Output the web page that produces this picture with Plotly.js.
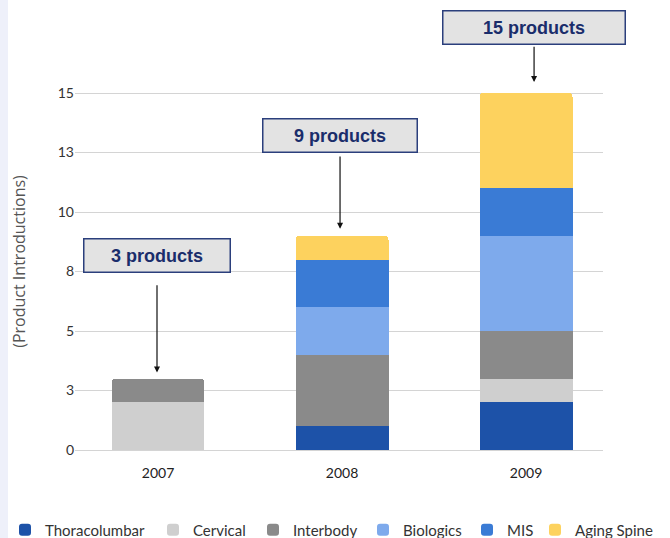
<!DOCTYPE html>
<html>
<head>
<meta charset="utf-8">
<script src="https://cdn.plot.ly/plotly-3.0.1.min.js"></script>
<style>html,body{margin:0;padding:0;background:#fff;}#chart{width:670px;height:538px;}</style>
</head>
<body>
<div id="chart"></div>
<script>
// ---- data ----
const years = ['2007', '2008', '2009'];
const thoracolumbar = [0, 1, 2];
const cervical = [2, 0, 1];
const interbody = [1, 3, 2];
const biologics = [0, 2, 4];
const mis = [0, 2, 2];
const agingSpine = [0, 1, 4];
const totals = [3, 9, 15];
const calloutLabels = ['3 products', '9 products', '15 products'];
const yTickVals = [0, 2.5, 5, 7.5, 10, 12.5, 15];
const yTickText = ['0', '3', '5', '8', '10', '13', '15'];

const seriesNames = ['Thoracolumbar', 'Cervical', 'Interbody', 'Biologics', 'MIS', 'Aging Spine'];
const seriesValues = [thoracolumbar, cervical, interbody, biologics, mis, agingSpine];
const seriesColors = ['#1d52a8', '#cfcfcf', '#8a8a8a', '#7eaaec', '#3a7bd5', '#fdd25e'];
// legend entry text start (px) as laid out in the reference
const legendTextX = [45, 193, 293, 403, 507, 575];

const legendIds = seriesNames.map((n, i) => i === 0 ? 'legend' : 'legend' + (i + 1));

const traces = seriesNames.map((n, i) => ({
  type: 'bar', name: n, x: years, y: seriesValues[i],
  marker: {color: seriesColors[i], line: {width: 0}},
  legend: legendIds[i],
  hoverinfo: 'skip'
}));

// callout styling
const boxW = [145, 153, 181];
const xShift = [-1, -2, 8];
const ayOff = [-123, -100, -66];
const headStand = [6, 7, 11];
const startStand = [13, 4, 3];

const annotations = years.map((yr, i) => ({
  x: i, y: totals[i], xref: 'x', yref: 'y',
  text: '<b>' + calloutLabels[i] + '</b>',
  showarrow: true, arrowhead: 2, arrowsize: 1, arrowwidth: 1.2, arrowcolor: '#111',
  ax: 0, ay: ayOff[i], xshift: xShift[i],
  standoff: headStand[i], startstandoff: startStand[i],
  width: boxW[i], height: 32,
  bgcolor: '#e3e3e3', bordercolor: '#2b3f7c', borderwidth: 1.5, borderpad: 0,
  font: {family: 'Arial, Liberation Sans, sans-serif', size: 18, color: '#1a2d6b'}
}));

const layout = {
  width: 670, height: 538,
  margin: {l: 75, r: 67, t: 60, b: 75},
  paper_bgcolor: '#ffffff', plot_bgcolor: '#ffffff',
  barmode: 'stack', bargap: 0.495, barcornerradius: 4,
  font: {family: 'Lato, sans-serif', color: '#333'},
  xaxis: {
    type: 'category', range: [-0.451, 2.418],
    showgrid: false, zeroline: false, showline: false, ticks: '',
    tickfont: {family: 'Lato, sans-serif', size: 14, color: '#222'},
    fixedrange: true
  },
  yaxis: {
    range: [-0.546, 16.387],
    tickvals: yTickVals, ticktext: yTickText,
    showgrid: true, gridcolor: '#d4d4d4', gridwidth: 1,
    zeroline: false, showline: false, ticks: '',
    tickfont: {family: 'Lato, sans-serif', size: 14, color: '#333'},
    title: {text: '(Product Introductions)', standoff: 28,
            font: {family: 'Open Sans, sans-serif', size: 16, color: '#555'}},
    fixedrange: true
  },
  showlegend: true,
  shapes: [{
    type: 'rect', xref: 'paper', yref: 'paper', layer: 'below',
    x0: -75 / 528, x1: -67 / 528, y0: -75 / 403, y1: 463 / 403,
    fillcolor: '#eef0fa', line: {width: 0}
  }],
  annotations: annotations
};

legendIds.forEach((id, i) => {
  layout[id] = {
    orientation: 'h', xref: 'container', yref: 'container',
    x: (legendTextX[i] - 40) / 670, xanchor: 'left',
    y: 1 - 530 / 538, yanchor: 'middle',
    itemwidth: 30, borderwidth: 0,
    font: {family: 'Lato, sans-serif', size: 15, color: '#333'},
    bgcolor: 'rgba(0,0,0,0)'
  };
});

Plotly.newPlot('chart', traces, layout, {displayModeBar: false, staticPlot: true});
</script>
</body>
</html>
